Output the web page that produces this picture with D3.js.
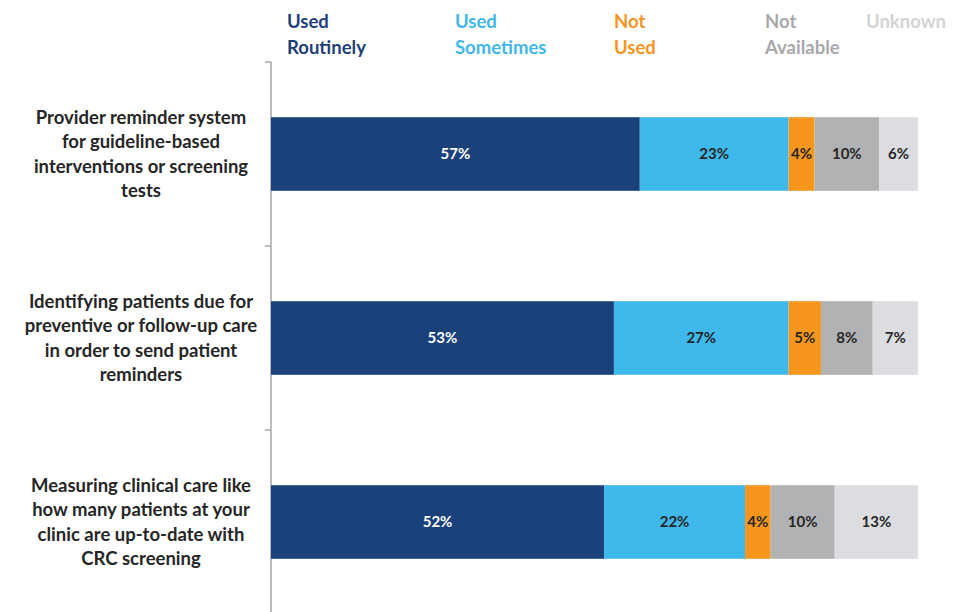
<!DOCTYPE html>
<html><head><meta charset="utf-8">
<script src="https://cdn.jsdelivr.net/npm/d3@7"></script>
<style>body{margin:0;background:#fff}svg{display:block}text{font-family:Lato,"Open Sans",sans-serif;font-weight:700}</style>
</head><body><svg id="c" width="962" height="612"></svg>
<script>
const categories = [
  ["Provider reminder system","for guideline-based","interventions or screening","tests"],
  ["Identifying patients due for","preventive or follow-up care","in order to send patient","reminders"],
  ["Measuring clinical care like","how many patients at your","clinic are up-to-date with","CRC screening"]
];
const seriesNames = ["Used Routinely","Used Sometimes","Not Used","Not Available","Unknown"];
const legendLines = [["Used","Routinely"],["Used","Sometimes"],["Not","Used"],["Not","Available"],["Unknown"]];
const usedRoutinely = [57,53,52];
const usedSometimes = [23,27,22];
const notUsed = [4,5,4];
const notAvailable = [10,8,10];
const unknown = [6,7,13];
const colors = ["#1b417b","#3fb9eb","#f7961d","#b1b2b4","#dcdde0"];
const legendColors = ["#1f3f78","#41b7e8","#f7941d","#a8a9ab","#d3d3d5"];
const labelColors = ["#ffffff","#262626","#262626","#262626","#262626"];

const seriesVals = [usedRoutinely,usedSometimes,notUsed,notAvailable,unknown];
const rows = categories.map((c,i)=>{const o={idx:i};seriesNames.forEach((s,j)=>o[s]=seriesVals[j][i]);return o;});
const stack = d3.stack().keys(seriesNames).offset(d3.stackOffsetExpand)(rows);

const svg = d3.select("#c");
const x = d3.scaleLinear().domain([0,1]).range([271,918]);
const y = d3.scaleBand().domain(d3.range(categories.length)).range([62,614]).paddingInner(0.6).paddingOuter(0.3);

// axis
const axisG = svg.append("g").attr("transform","translate(271,0)");
const yTick = d3.scaleLinear().domain([0,3]).range([62,614]);
axisG.append("line").attr("x1",0).attr("x2",0).attr("y1",62).attr("y2",614).attr("stroke","#a6a6a6").attr("stroke-width",1.5);
axisG.selectAll(".tk").data([0,1,2,3]).join("line")
  .attr("x1",-6).attr("x2",0).attr("y1",d=>yTick(d)).attr("y2",d=>yTick(d))
  .attr("stroke","#a6a6a6").attr("stroke-width",1.5);

// bars
const layers = svg.append("g").selectAll("g").data(stack).join("g").attr("fill",(d,i)=>colors[i]);
layers.selectAll("rect").data(d=>d).join("rect")
  .attr("x",d=>x(d[0])).attr("width",d=>x(d[1])-x(d[0]))
  .attr("y",(d,i)=>y(i)).attr("height",y.bandwidth());
layers.each(function(layer,li){
  d3.select(this).selectAll("text").data(layer).join("text")
    .attr("x",d=>(x(d[0])+x(d[1]))/2)
    .attr("y",(d,i)=>y(i)+y.bandwidth()/2)
    .attr("dy","0.35em").attr("text-anchor","middle")
    .attr("font-size",15).attr("fill",labelColors[li])
    .text(d=>d.data[seriesNames[li]]+"%");
});

// category labels
categories.forEach((lines,i)=>{
  const cy = y(i)+y.bandwidth()/2;
  const t = svg.append("text").attr("text-anchor","middle").attr("font-size",18.5).attr("fill","#262626");
  lines.forEach((l,k)=>{
    t.append("tspan").attr("x",141).attr("y",cy-36.75+k*24.5).attr("dy","0.35em").text(l);
  });
});

// legend
const legX = [287,455,614,765,866];
legendLines.forEach((lines,i)=>{
  const t = svg.append("text").attr("font-size",18.5).attr("fill",legendColors[i]);
  lines.forEach((l,k)=>t.append("tspan").attr("x",legX[i]).attr("y",28+k*26).text(l));
});
</script></body></html>
